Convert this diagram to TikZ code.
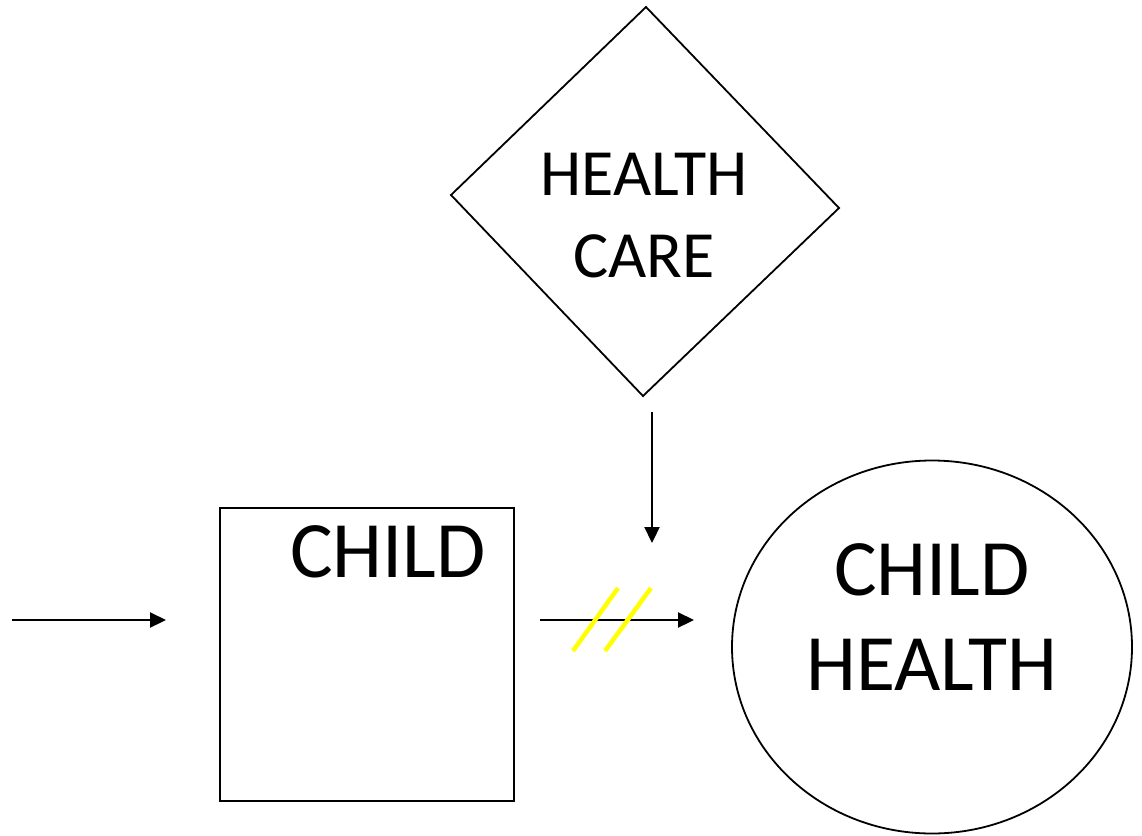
\documentclass[tikz,border=0pt]{standalone}
\usepackage{fontspec}
\setmainfont{Carlito}
\usetikzlibrary{arrows.meta,shapes.geometric}
\definecolor{slashyellow}{RGB}{255,255,0}
\begin{document}
\begin{tikzpicture}[x=1pt,y=-1pt,
  outline/.style={draw=black,line width=1.8pt},
  conn/.style={draw=black,line width=2.2pt,-{Triangle[length=16pt,width=15pt]}},
  slash/.style={draw=slashyellow,line width=4.5pt},
  lbl/.style={font=\fontsize{80}{95}\selectfont,align=center,inner sep=0pt},
  hclbl/.style={font=\fontsize{66}{82}\selectfont,align=center,inner sep=0pt}]
\useasboundingbox (0,0) rectangle (1142,835);
% diamond
\coordinate (dt) at (646,7);
\coordinate (dr) at (839,208);
\coordinate (db) at (643,396);
\coordinate (dl) at (451,195);
\draw[outline] (dt) -- (dr) -- (db) -- (dl) -- cycle;
\node[hclbl] (hc) at (644,216) {HEALTH\\CARE};
% box
\node[outline,rectangle,minimum width=294pt,minimum height=293pt,inner sep=0pt] (child) at (367,654.5) {};
\node[lbl,anchor=base] (childtxt) at (388,577) {CHILD};
% circle
\node[outline,ellipse,minimum width=400pt,minimum height=373pt,inner sep=0pt] (ch) at (932,647) {};
\node[lbl] (chtxt) at (932,617) {CHILD\\HEALTH};
% arrows
\coordinate (a1s) at (12,620);
\coordinate (a1e) at (166,620);
\coordinate (a2s) at (540,620);
\coordinate (a2e) at (694,620);
\coordinate (a3s) at (652,412);
\coordinate (a3e) at (652,543);
\draw[conn] (a1s) -- (a1e);
\draw[conn] (a2s) -- (a2e);
\draw[conn] (a3s) -- (a3e);
% yellow slashes
\coordinate (y1a) at (573,651);
\coordinate (y1b) at (618,588);
\coordinate (y2a) at (605,651);
\coordinate (y2b) at (651,588);
\draw[slash] (y1a) -- (y1b);
\draw[slash] (y2a) -- (y2b);
\end{tikzpicture}
\end{document}
